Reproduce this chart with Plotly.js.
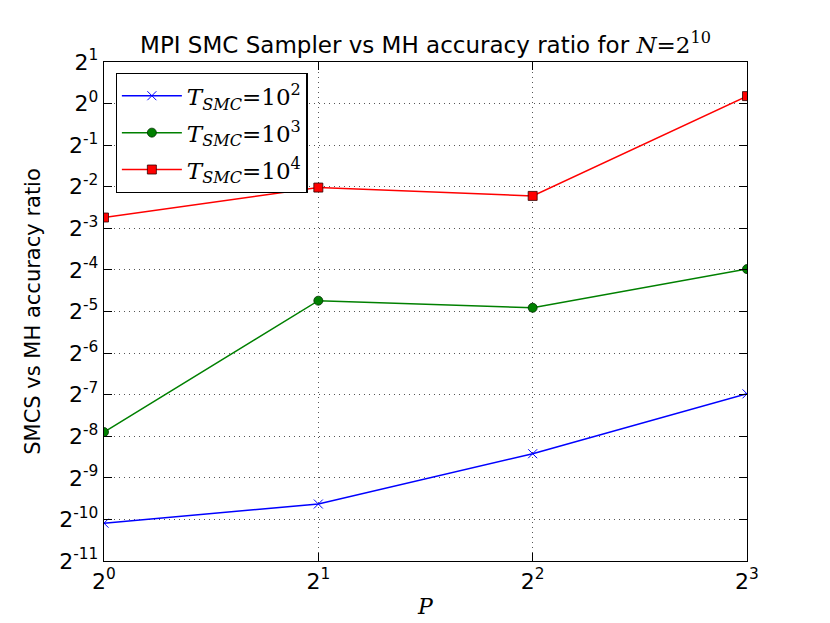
<!DOCTYPE html>
<html><head><meta charset="utf-8">
<script src="https://cdn.plot.ly/plotly-3.0.1.min.js"></script>
<style>body{margin:0;background:#fff}#c{width:830px;height:623px}</style>
</head><body><div id="c"></div>
<script>
// Processors P
const P = [1, 2, 4, 8];
// accuracy ratio values
const ratioT1e2 = [0.000917, 0.001262, 0.002919, 0.007922];
const ratioT1e3 = [0.004187, 0.03742, 0.03326, 0.06337];
const ratioT1e4 = [0.1497, 0.2466, 0.2146, 1.1329];
const seriesNames = ['<i>T<sub>SMC</sub></i>=10<sup>2</sup>', '<i>T<sub>SMC</sub></i>=10<sup>3</sup>', '<i>T<sub>SMC</sub></i>=10<sup>4</sup>'];
const xTickVals = [1, 2, 4, 8];
const xTickText = ['2<sup>0</sup>', '2<sup>1</sup>', '2<sup>2</sup>', '2<sup>3</sup>'];
const yTickVals = [2, 1, 0.5, 0.25, 0.125, 0.0625, 0.03125, 0.015625, 0.0078125, 0.00390625, 0.001953125, 0.0009765625, 0.00048828125];
const yTickText = ['2<sup>1</sup>','2<sup>0</sup>','2<sup>-1</sup>','2<sup>-2</sup>','2<sup>-3</sup>','2<sup>-4</sup>','2<sup>-5</sup>','2<sup>-6</sup>','2<sup>-7</sup>','2<sup>-8</sup>','2<sup>-9</sup>','2<sup>-10</sup>','2<sup>-11</sup>'];

const traces = [
  {x: P, y: ratioT1e2, name: seriesNames[0], legendgroup: 'a', mode: 'lines+markers', line: {color: '#0000ff', width: 1.5},
   marker: {symbol: 'x-thin-open', size: 9, color: '#0000ff', line: {color: '#0000ff', width: 1}}},
  {x: P, y: ratioT1e3, name: seriesNames[1], legendgroup: 'b', mode: 'lines+markers', line: {color: '#008000', width: 1.5},
   marker: {symbol: 'circle', size: 9, color: '#008000', line: {color: '#003000', width: 0.8}}},
  {x: P, y: ratioT1e4, name: seriesNames[2], legendgroup: 'c', mode: 'lines+markers', line: {color: '#ff0000', width: 1.5},
   marker: {symbol: 'square', size: 9, color: '#ff0000', line: {color: '#300000', width: 0.8}}}
];

const axisCommon = {
  showline: true, linecolor: '#000', linewidth: 1.3, mirror: 'ticks',
  ticks: 'inside', ticklen: 8, tickwidth: 1, tickcolor: '#000',
  showgrid: true, gridcolor: '#555', griddash: '1px,4px', gridwidth: 1,
  zeroline: false, tickfont: {family: 'DejaVu Sans', size: 22, color: '#000'}
};

const layout = {
  width: 830, height: 623,
  margin: {l: 104, r: 83, t: 62, b: 62},
  paper_bgcolor: '#fff', plot_bgcolor: '#fff',
  font: {family: 'DejaVu Sans', color: '#000'},
  title: {text: 'MPI SMC Sampler vs MH accuracy ratio for <span style="font-family:DejaVu Serif"><i>N</i>=2<sup>10</sup></span>',
          font: {family: 'DejaVu Sans', size: 23, color: '#000'}, x: 0.5, xref: 'paper', y: 1 - 45/623, yref: 'container', yanchor: 'middle'},
  xaxis: Object.assign({}, axisCommon, {type: 'log', range: [0, Math.log10(8)], tickvals: xTickVals, ticktext: xTickText,
          title: {text: '<i>P</i>', font: {family: 'DejaVu Serif', size: 22, color: '#000'}, standoff: 6}}),
  yaxis: Object.assign({}, axisCommon, {type: 'log', range: [Math.log10(yTickVals[12]), Math.log10(yTickVals[0])], tickvals: yTickVals, ticktext: yTickText,
          title: {text: 'SMCS vs MH accuracy ratio', font: {family: 'DejaVu Sans', size: 21, color: '#000'}, standoff: 12}}),
  legend: {x: 0.018, y: 0.978, xanchor: 'left', yanchor: 'top', bgcolor: '#fff', bordercolor: '#000', borderwidth: 1.3,
           font: {family: 'DejaVu Serif', size: 23, color: '#000'}, itemwidth: 60, tracegroupgap: 4},
  showlegend: true
};

Plotly.newPlot('c', traces, layout, {displayModeBar: false, staticPlot: true});
</script></body></html>
